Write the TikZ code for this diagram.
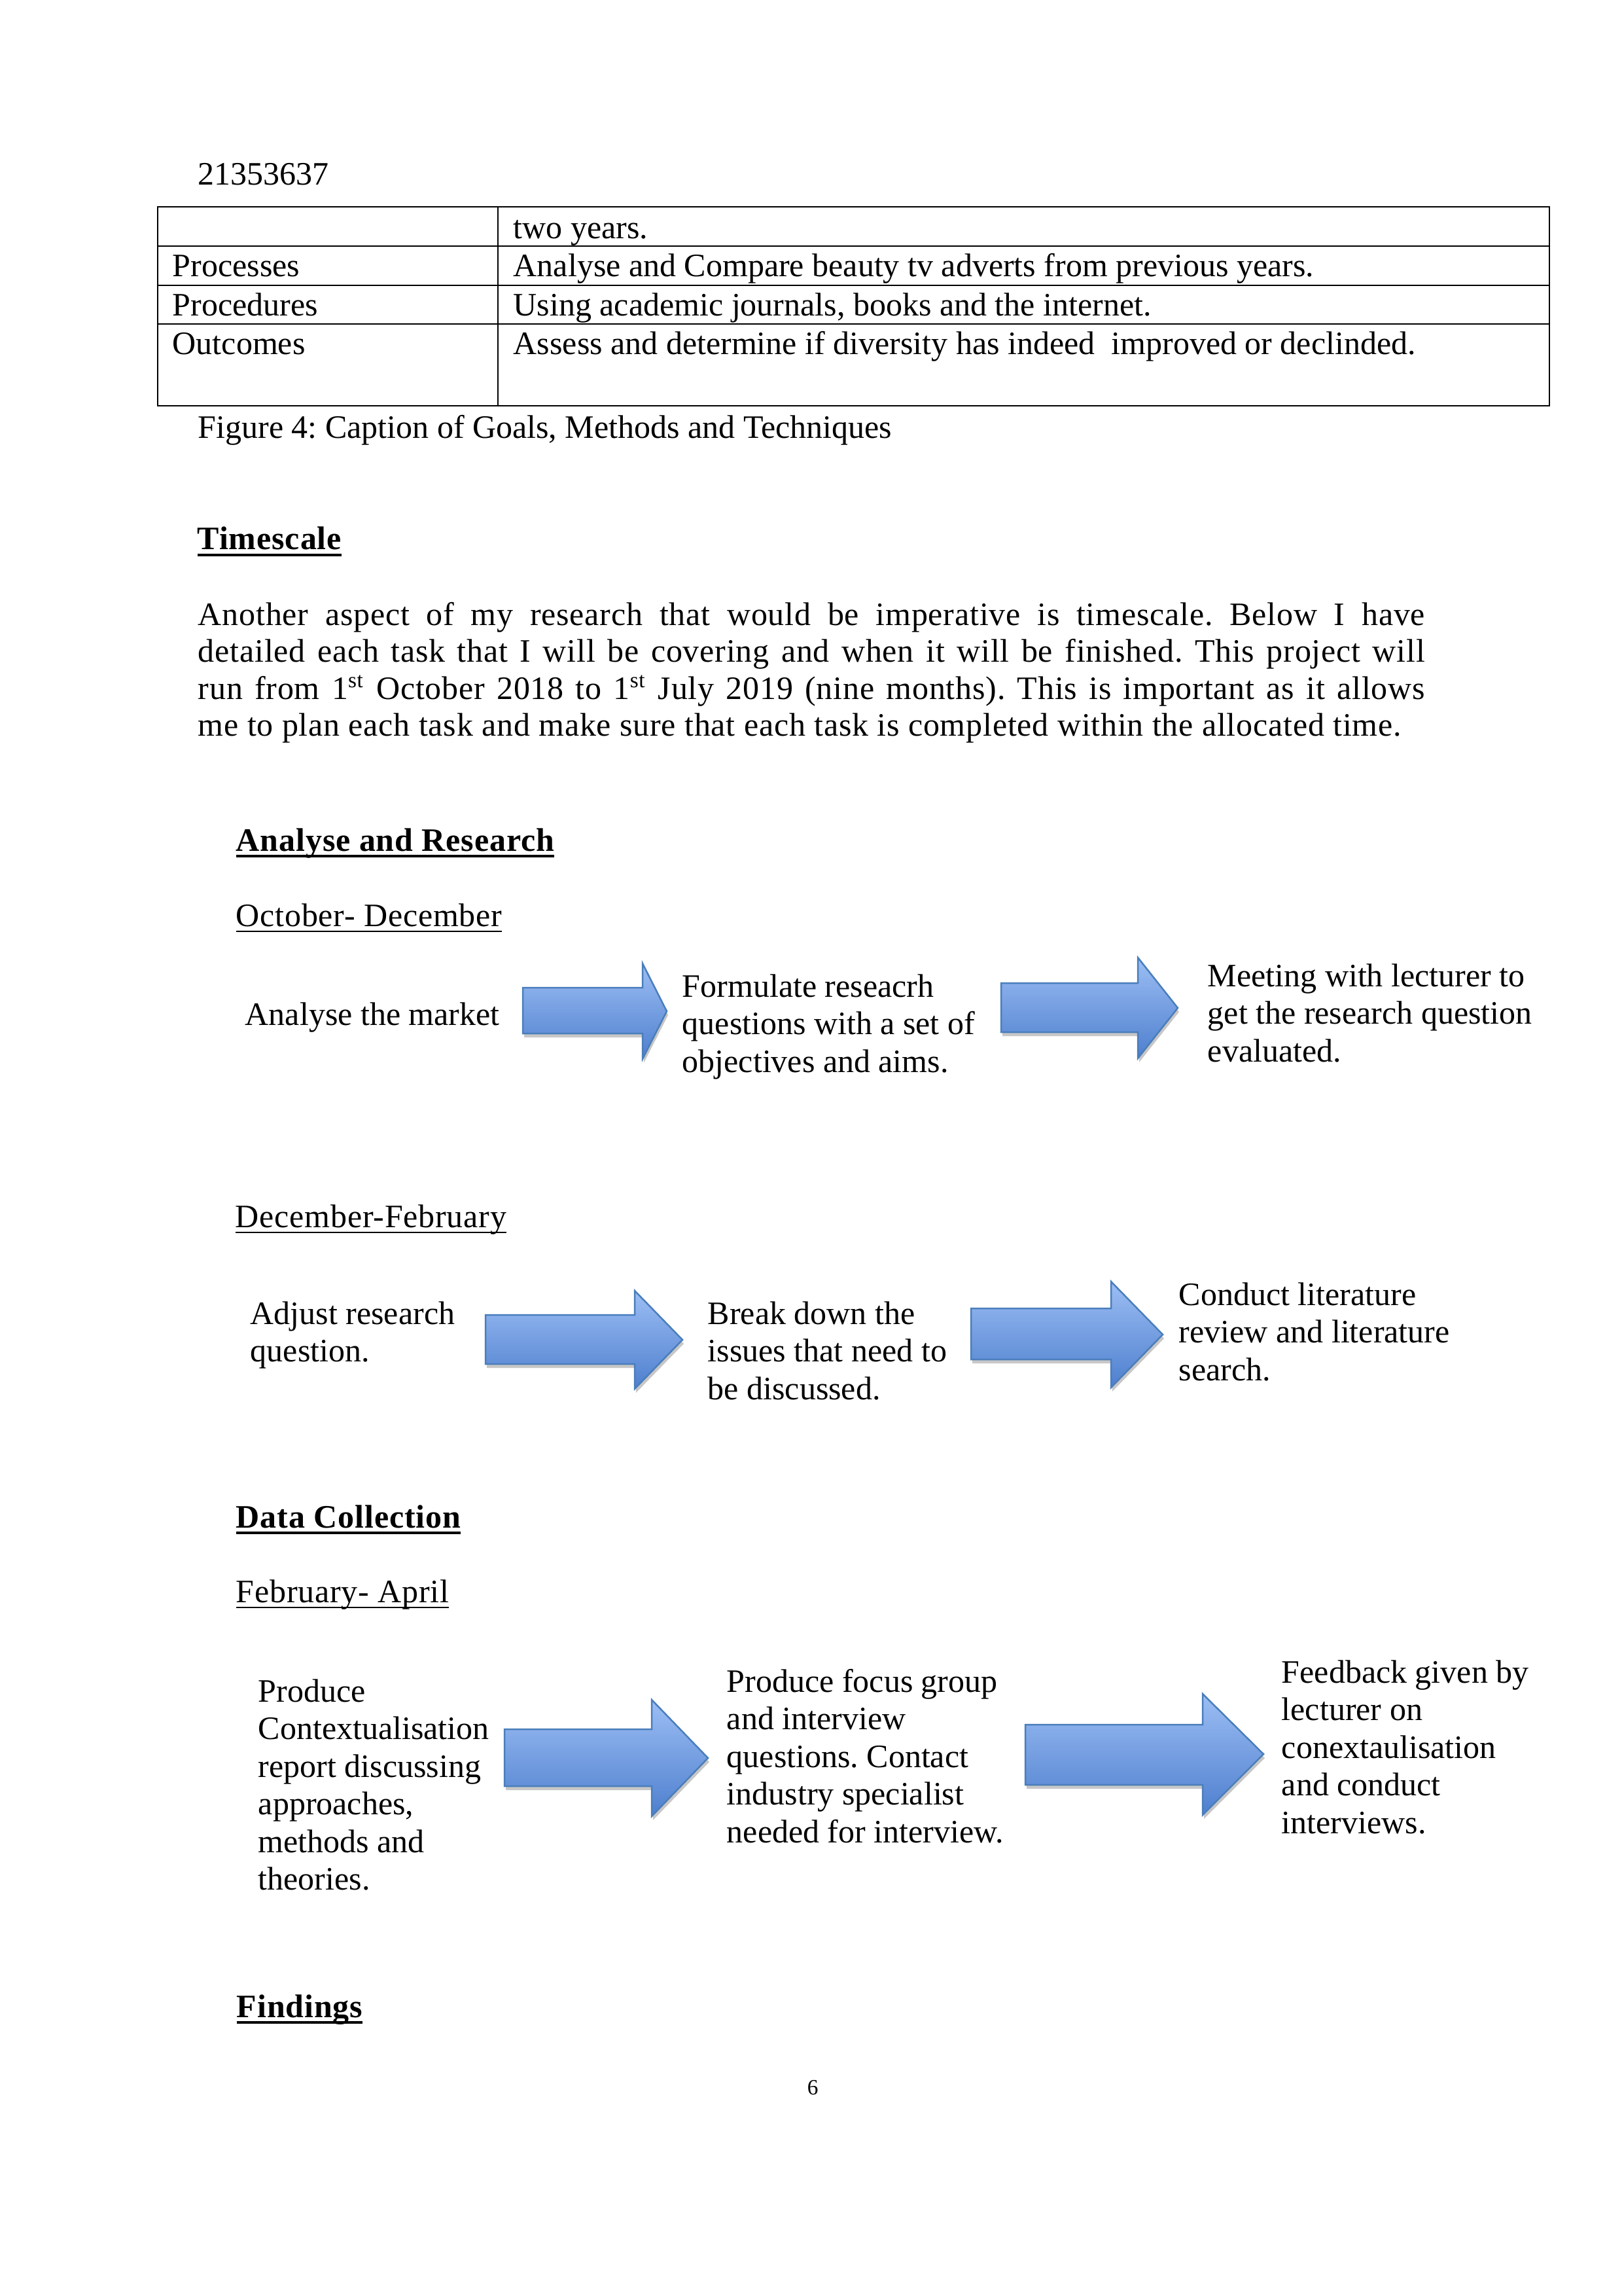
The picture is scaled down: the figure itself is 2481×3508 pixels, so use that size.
\documentclass[tikz,border=0pt]{standalone}
\usepackage{fontspec}
\setmainfont{Liberation Serif}
\frenchspacing
\definecolor{arrowtop}{HTML}{9CBEF4}
\definecolor{arrowbot}{HTML}{4E7FCE}
\definecolor{arrowline}{HTML}{4A7EBB}
\newcommand\ulbold[1]{\setbox0\hbox{#1}\rlap{\rule[-2.4pt]{\wd0}{1pt}}\box0}
\newcommand\ulreg[1]{\setbox0\hbox{#1}\rlap{\rule[-2.1pt]{\wd0}{0.5pt}}\box0}
\newcommand\lns[1]{\begin{tabular}[t]{@{}l@{}}#1\end{tabular}}
\newcommand\jline[1]{\makebox[450pt][s]{#1}}
% block arrow: L yt yb hb ht hbot T ty
\newcommand\barrow[8]{%
  \fill[black!22, shift={(2,6)}] (#1,#2) -- (#4,#2) -- (#4,#5) -- (#7,#8) -- (#4,#6) -- (#4,#3) -- (#1,#3) -- cycle;
  \shade[top color=arrowtop, bottom color=arrowbot, draw=arrowline, line width=0.6pt, line join=miter]
    (#1,#2) -- (#4,#2) -- (#4,#5) -- (#7,#8) -- (#4,#6) -- (#4,#3) -- (#1,#3) -- cycle;}
\begin{document}
\begin{tikzpicture}[x=0.24pt, y=-0.24pt,
  txt/.style={anchor=base west, inner sep=0pt, font=\fontsize{12}{13.8}\selectfont},
  wide/.style={anchor=base west, inner sep=0pt, font=\fontsize{12}{13.6}\selectfont\addfontfeature{LetterSpace=1.6}},
  hd/.style={anchor=base west, inner sep=0pt, font=\fontsize{12}{13.8}\selectfont\bfseries\addfontfeature{LetterSpace=1.8}},
  rule/.style={line width=0.5pt}]
\useasboundingbox[fill=white] (0,0) rectangle (2481,3508);

% header
\node[txt] (id) at (302,283) {21353637};

% table
\draw[rule] (241,316) rectangle (2368,620);
\draw[rule] (761,316) -- (761,620);
\draw[rule] (241,376) -- (2368,376);
\draw[rule] (241,436) -- (2368,436);
\draw[rule] (241,495) -- (2368,495);
\node[txt] (r0b) at (784,365) {two years.};
\node[txt] (r1a) at (263,423) {Processes};
\node[txt] (r1b) at (784,423) {Analyse and Compare beauty tv adverts from previous years.};
\node[txt] (r2a) at (263,483) {Procedures};
\node[txt] (r2b) at (784,483) {Using academic journals, books and the internet.};
\node[txt] (r3a) at (263,542) {Outcomes};
\node[txt] (r3b) at (784,542) {Assess and determine if diversity has indeed\ \ improved or declinded.};
\node[txt] (cap) at (302,670) {Figure 4: Caption of Goals, Methods and Techniques};

% timescale
\node[hd] (ts) at (301,840) {\ulbold{Timescale}};
\node[wide] (para) at (302,955) {\lns{%
\jline{Another aspect of my research that would be imperative is timescale. Below I have}\\
\jline{detailed each task that I will be covering and when it will be finished. This project will}\\
\jline{run from 1\textsuperscript{st} October 2018 to 1\textsuperscript{st} July 2019 (nine months). This is important as it allows}\\
me to plan each task and make sure that each task is completed within the allocated time.}};

% Analyse and Research
\node[hd] (h1) at (360,1300) {\ulbold{Analyse and Research}};
\node[wide] (p1) at (360,1415) {\ulreg{October- December}};
\node[txt] (a1) at (374,1566) {Analyse the market};
\node[txt] (a2) at (1042,1523) {\lns{Formulate reseacrh\\questions with a set of\\objectives and aims.}};
\node[txt] (a3) at (1845,1507) {\lns{Meeting with lecturer to\\get the research question\\evaluated.}};
\barrow{799}{1509}{1579}{982}{1472}{1618}{1019}{1545}
\barrow{1530}{1502}{1577}{1739}{1463}{1617}{1800}{1540}

\node[wide] (p2) at (359,1875) {\ulreg{December-February}};
\node[txt] (b1) at (382,2023) {\lns{Adjust research\\question.}};
\node[txt] (b2) at (1081,2023) {\lns{Break down the\\issues that need to\\be discussed.}};
\node[txt] (b3) at (1801,1994) {\lns{Conduct literature\\review and literature\\search.}};
\barrow{742}{2009}{2084}{970}{1972}{2122}{1043}{2047}
\barrow{1484}{1999}{2077}{1698}{1958}{2120}{1777}{2039}

% Data collection
\node[hd] (h2) at (360,2334) {\ulbold{Data Collection}};
\node[wide] (p3) at (360,2448) {\ulreg{February- April}};
\node[txt] (c1) at (394,2600) {\lns{Produce\\Contextualisation\\report discussing\\approaches,\\methods and\\theories.}};
\node[txt] (c2) at (1110,2585) {\lns{Produce focus group\\and interview\\questions. Contact\\industry specialist\\needed for interview.}};
\node[txt] (c3) at (1958,2571) {\lns{Feedback given by\\lecturer on\\conextaulisation\\and conduct\\interviews.}};
\barrow{771}{2642}{2729}{996}{2597}{2775}{1082}{2686}
\barrow{1567}{2635}{2727}{1838}{2588}{2773}{1931}{2680}

% Findings
\node[hd] (h3) at (361,3082) {\ulbold{Findings}};
\node[txt, font=\fontsize{8}{9}\selectfont] (pg) at (1233,3200) {6};
\end{tikzpicture}
\end{document}
